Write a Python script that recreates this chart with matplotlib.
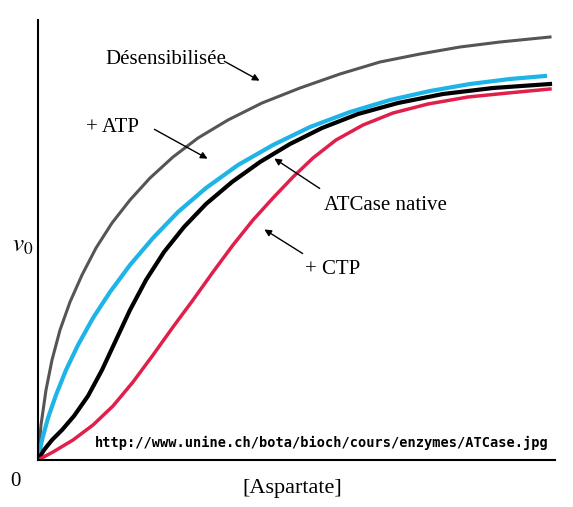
import matplotlib
matplotlib.use("Agg")
import matplotlib.pyplot as plt

plt.rcParams["mathtext.fontset"] = "stix"

# data (x, v0) in arbitrary units
x_des = [0, 3, 8, 14, 22, 32, 44, 58, 74, 92, 112, 135, 160, 190, 224, 262, 302, 342, 382, 422, 462, 512]
y_des = [0, 35, 70, 100, 130, 158, 185, 212, 237, 260, 282, 303, 322, 340, 357, 372, 386, 398, 406, 413, 418, 423]
x_atp = [0, 4, 10, 18, 28, 40, 55, 72, 92, 115, 140, 168, 200, 235, 272, 312, 352, 392, 432, 472, 507]
y_atp = [0, 20, 42, 65, 90, 115, 142, 168, 195, 222, 248, 272, 295, 315, 333, 348, 360, 369, 376, 381, 384]
x_nat = [0, 6, 14, 24, 36, 50, 64, 78, 92, 108, 126, 146, 168, 194, 222, 252, 284, 320, 360, 405, 455, 512]
y_nat = [0, 10, 20, 30, 44, 64, 90, 120, 150, 180, 208, 233, 256, 278, 298, 316, 332, 346, 357, 366, 372, 376]
x_ctp = [0, 15, 35, 55, 75, 95, 115, 135, 155, 175, 195, 215, 235, 255, 275, 298, 325, 355, 390, 430, 470, 512]
y_ctp = [0, 8, 20, 35, 54, 78, 105, 133, 160, 188, 215, 240, 262, 283, 302, 320, 335, 347, 356, 363, 367, 371]

fig = plt.figure(figsize=(5.73, 5.07), dpi=100)
ax = fig.add_axes([38/573, 47/507, 517/573, 440/507])
ax.set_xlim(0, 517)
ax.set_ylim(0, 440)
for s in ["top", "right"]:
    ax.spines[s].set_visible(False)
for s in ["left", "bottom"]:
    ax.spines[s].set_linewidth(1.5)
ax.set_xticks([]); ax.set_yticks([])

ax.plot(x_des, y_des, color="#555555", lw=2.2)
ax.plot(x_atp, y_atp, color="#1eb4e8", lw=3)
ax.plot(x_nat, y_nat, color="black", lw=3)
ax.plot(x_ctp, y_ctp, color="#e0204a", lw=2.5)

serif = "Liberation Serif"
fs = 15
ap = dict(arrowstyle="-|>", color="black", lw=1, mutation_scale=10)
ax.annotate("", xy=(262-38, 460-82), xytext=(222-38, 460-60), arrowprops=ap)
ax.text(166-38, 460-60, "Désensibilisée", ha="center", va="center", fontsize=fs, family=serif)
ax.annotate("", xy=(210-38, 460-160), xytext=(152-38, 460-128), arrowprops=ap)
ax.text(112-38, 460-128, "+ ATP", ha="center", va="center", fontsize=fs, family=serif)
ax.annotate("", xy=(272-38, 460-157), xytext=(322-38, 460-190), arrowprops=ap)
ax.text(385-38, 460-205, "ATCase native", ha="center", va="center", fontsize=fs, family=serif)
ax.annotate("", xy=(262-38, 460-228), xytext=(305-38, 460-255), arrowprops=ap)
ax.text(333-38, 460-270, "+ CTP", ha="center", va="center", fontsize=fs, family=serif)

fig.text(12/573, 1-245/507, "$v_0$", fontsize=18, va="center")
fig.text(15/573, 1-482/507, "0", fontsize=fs, family=serif, ha="center", va="center")
fig.text(292/573, 1-488/507, "[Aspartate]", fontsize=16, family=serif, ha="center", va="center")
fig.text(322/573, 1-443/507, "http://www.unine.ch/bota/bioch/cours/enzymes/ATCase.jpg",
         fontsize=9.8, family="DejaVu Sans Mono", weight="bold", ha="center", va="center",
         bbox=dict(facecolor="white", edgecolor="none", pad=1))
fig.savefig("out.png", dpi=100)
